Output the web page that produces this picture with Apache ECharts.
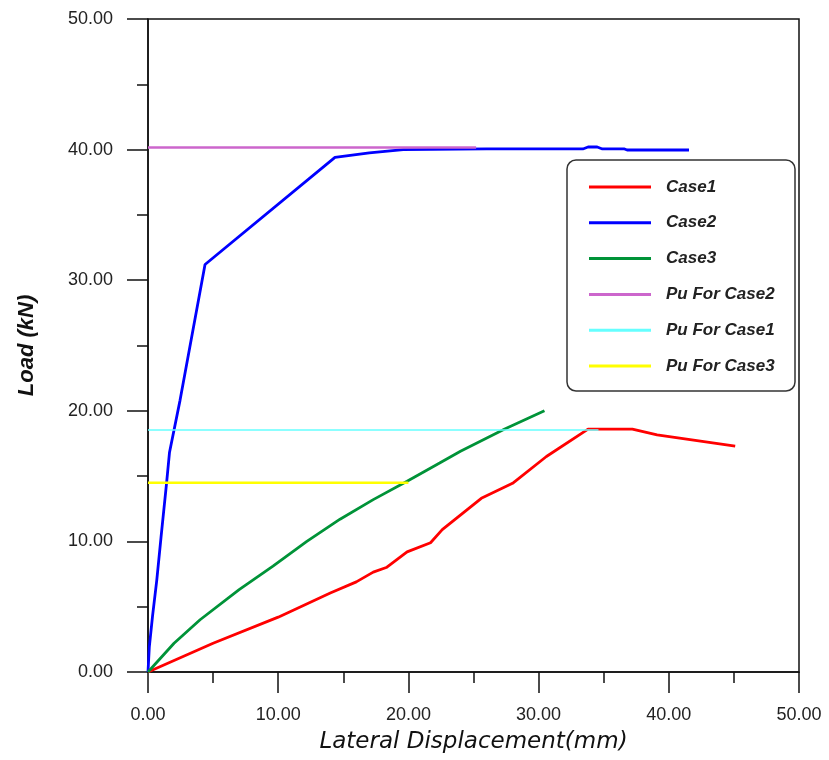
<!DOCTYPE html>
<html>
<head>
<meta charset="utf-8">
<script src="https://cdn.jsdelivr.net/npm/echarts@6/dist/echarts.min.js"></script>
<style>
html,body{margin:0;padding:0;background:#fff;}
#chart{width:829px;height:760px;}
</style>
</head>
<body>
<div id="chart"></div>
<script>
// ---- data ----
const case1X = [0, 5, 10, 14, 16.0, 17.3, 18.3, 19.9, 21.7, 22.6, 25.6, 28.0, 30.6, 33.8, 37.2, 39.1, 45.1];
const case1Y = [0, 2.2, 4.2, 6.05, 6.9, 7.65, 8.0, 9.2, 9.9, 10.9, 13.3, 14.45, 16.5, 18.6, 18.6, 18.15, 17.3];

const case2X = [0, 0.1, 0.35, 0.67, 1.0, 1.43, 1.65, 2.46, 4.38, 14.36, 17.0, 19.6, 26.0, 33.4, 33.8, 34.5, 34.9, 36.6, 36.8, 41.55];
const case2Y = [0, 1.9, 4.3, 7.0, 10.3, 14.5, 16.8, 20.8, 31.2, 39.4, 39.75, 40.0, 40.05, 40.05, 40.2, 40.2, 40.05, 40.05, 39.97, 39.97];

const case3X = [0, 2, 4, 7, 9.6, 12.2, 14.75, 17.3, 19.9, 22.4, 24.0, 27.4, 30.45];
const case3Y = [0, 2.2, 4.0, 6.3, 8.1, 10.0, 11.7, 13.2, 14.6, 16.0, 16.9, 18.6, 20.0];

const puCase2X = [0, 25.2];
const puCase2Y = [40.17, 40.17];
const puCase1X = [0, 34.6];
const puCase1Y = [18.53, 18.53];
const puCase3X = [0, 20.0];
const puCase3Y = [14.5, 14.5];

const seriesNames = ['Case1', 'Case2', 'Case3', 'Pu For Case2', 'Pu For Case1', 'Pu For Case3'];
const seriesColors = ['#ff0000', '#0000ff', '#009338', '#cc66cc', '#66ffff', '#ffff00'];
const xTitle = 'Lateral Displacement(mm)';
const yTitle = 'Load (kN)';
const axisMin = 0, axisMax = 50, axisStep = 10;

function pairs(xs, ys){ return xs.map((x, i) => [x, ys[i]]); }
const seriesData = [
  pairs(case1X, case1Y), pairs(case2X, case2Y), pairs(case3X, case3Y),
  pairs(puCase2X, puCase2Y), pairs(puCase1X, puCase1Y), pairs(puCase3X, puCase3Y)
];
const widths = [2.8, 2.8, 2.8, 2.5, 1.7, 2.5];

const tickFont = {fontFamily: 'Liberation Sans, Arial, sans-serif', fontSize: 18, color: '#222'};
const fmt = v => v.toFixed(2);

const chart = echarts.init(document.getElementById('chart'), null, {renderer: 'canvas'});
chart.setOption({
  animation: false,
  backgroundColor: '#ffffff',
  grid: {left: 148, right: 30, top: 19, bottom: 88, show: true, borderColor: '#111', borderWidth: 1.5, containLabel: false},
  xAxis: {
    type: 'value', min: axisMin, max: axisMax, interval: axisStep,
    name: xTitle, nameLocation: 'middle', nameGap: 59,
    nameTextStyle: {fontFamily: 'DejaVu Sans, Verdana, sans-serif', fontSize: 23, fontStyle: 'italic', color: '#111'},
    axisLine: {show: true, onZero: false, lineStyle: {color: '#111', width: 1.5}},
    axisTick: {show: true, inside: false, length: 21, lineStyle: {color: '#111', width: 1.5}},
    minorTick: {show: true, splitNumber: 2, length: 11, lineStyle: {color: '#111', width: 1.5}},
    axisLabel: Object.assign({margin: 34, formatter: fmt}, tickFont),
    splitLine: {show: false}
  },
  yAxis: {
    type: 'value', min: axisMin, max: axisMax, interval: axisStep,
    name: yTitle, nameLocation: 'middle', nameGap: 110, nameRotate: 90,
    nameTextStyle: {fontFamily: 'Liberation Sans, Arial, sans-serif', fontSize: 22, fontStyle: 'italic', fontWeight: 'bold', color: '#111'},
    axisLine: {show: true, onZero: false, lineStyle: {color: '#111', width: 1.5}},
    axisTick: {show: true, inside: false, length: 21, lineStyle: {color: '#111', width: 1.5}},
    minorTick: {show: true, splitNumber: 2, length: 11, lineStyle: {color: '#111', width: 1.5}},
    axisLabel: Object.assign({margin: 35, formatter: fmt}, tickFont),
    splitLine: {show: false}
  },
  legend: {
    orient: 'vertical', left: 584, top: 172,
    itemWidth: 62, itemHeight: 3, icon: 'rect', itemGap: 15.8,
    data: seriesNames,
    textStyle: {fontFamily: 'Liberation Sans, Arial, sans-serif', fontSize: 17, fontStyle: 'italic', fontWeight: 'bold', color: '#222', lineHeight: 20, padding: [0, 0, 0, 10]}
  },
  graphic: [{
    type: 'rect', z: -1, silent: true,
    shape: {x: 567, y: 160, width: 228, height: 231, r: 9},
    style: {fill: '#fff', stroke: '#333', lineWidth: 1.5}
  }],
  series: seriesNames.map((n, i) => ({
    name: n, type: 'line', data: seriesData[i], showSymbol: false, symbol: 'none',
    lineStyle: {color: seriesColors[i], width: widths[i]}, itemStyle: {color: seriesColors[i]},
    z: 2 + i
  }))
});
</script>
</body>
</html>
